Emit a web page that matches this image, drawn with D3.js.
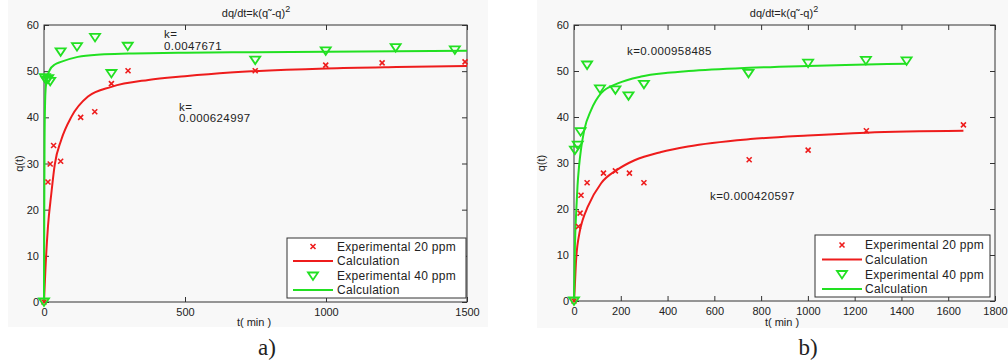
<!DOCTYPE html>
<html><head><meta charset="utf-8">
<script src="https://cdn.jsdelivr.net/npm/d3@7"></script>
<style>
body{margin:0;background:#fff}
svg{display:block}
text{font-family:"Liberation Sans",Arial,sans-serif;fill:#222}
</style>
</head><body>
<svg id="c" width="1008" height="364"></svg>
<script>
// ---------- Data: panel a) ----------
const aExp20T = [0, 14, 22, 34, 59, 130, 180, 239, 298, 749, 999, 1199, 1493];
const aExp20Q = [0, 26.0, 29.9, 33.9, 30.5, 40.0, 41.2, 47.3, 50.1, 50.1, 51.3, 51.8, 52.0];
const aExp40T = [0, 3, 8, 15, 22, 59, 117, 181, 239, 297, 749, 999, 1247, 1457];
const aExp40Q = [0, 48.6, 48.0, 48.4, 47.8, 54.2, 55.3, 57.3, 49.5, 55.4, 52.4, 54.4, 55.1, 54.6];
const aCalc20T = [0, 5, 14, 26, 38, 61, 97, 156, 239, 370, 500, 660, 1000, 1250, 1500];
const aCalc20Q = [0, 7.0, 16.3, 23.5, 29.7, 35.1, 40.1, 44.5, 46.6, 48.1, 48.9, 49.7, 50.6, 50.9, 51.1];
const aCalc40T = [0, 1, 2, 4, 6, 10, 20, 40, 60, 120, 200, 300, 500, 750, 1000, 1250, 1500];
const aCalc40Q = [0, 20, 35, 43.5, 46.3, 48.3, 50.2, 51.5, 52.0, 53.1, 53.6, 53.8, 54.0, 54.1, 54.2, 54.3, 54.4];
const aXTicks = [0, 500, 1000, 1500];

// ---------- Data: panel b) ----------
const bExp20T = [0, 19, 26, 30, 56, 126, 177, 237, 299, 749, 1001, 1250, 1665];
const bExp20Q = [0, 16.2, 19.1, 23.0, 25.7, 27.8, 28.3, 27.8, 25.7, 30.7, 32.8, 37.0, 38.3];
const bExp40T = [0, 4, 16, 28, 56, 111, 177, 233, 299, 746, 1001, 1248, 1422];
const bExp40Q = [0, 32.8, 33.9, 36.8, 51.3, 46.1, 45.9, 44.6, 47.1, 49.5, 51.7, 52.3, 52.2];
const bCalc20T = [0, 2, 9, 23, 37, 59, 116, 187, 259, 373, 487, 754, 1000, 1250, 1665];
const bCalc20Q = [0, 1.7, 8.9, 14.7, 17.6, 20.5, 25.6, 28.6, 30.6, 32.4, 33.6, 35.2, 36.0, 36.6, 37.0];
const bCalc40T = [0, 4, 10, 15, 22, 30, 44, 73, 116, 187, 287, 400, 490, 750, 1000, 1250, 1422];
const bCalc40Q = [0, 12, 20, 25, 29.5, 33, 37.2, 41.5, 45.2, 47.3, 48.8, 49.6, 50.0, 50.7, 51.1, 51.4, 51.6];
const bXTicks = [0, 200, 400, 600, 800, 1000, 1200, 1400, 1600, 1800];

const yTicks = [0, 10, 20, 30, 40, 50, 60];
const legendLabels = ["Experimental 20 ppm", "Calculation", "Experimental 40 ppm", "Calculation"];
const titleText = "dq/dt=k(q˜-q)";

const RED = "#ee1c1c", GREEN = "#22e022";
const svg = d3.select("#c");

function zip(t, q){ return t.map((v,i)=>({t:v,q:q[i]})); }

function panel(cfg){
  const g = svg.append("g");
  g.append("rect").attr("x",cfg.bg[0]).attr("y",0).attr("width",cfg.bg[1]-cfg.bg[0]).attr("height",cfg.bg[2]).attr("fill","#f8f8f8");
  const x = d3.scaleLinear().domain(cfg.xDomain).range([cfg.x0, cfg.x1]);
  const y = d3.scaleLinear().domain([0,60]).range([cfg.y1, cfg.y0]);

  const axStyle = sel => { sel.select(".domain").remove(); sel.selectAll("line").attr("stroke","#333"); sel.selectAll("text").attr("font-size","11px").attr("fill","#222").style("font-family","'Liberation Sans',Arial,sans-serif"); };
  g.append("g").attr("transform",`translate(0,${cfg.y1})`).call(d3.axisBottom(x).tickValues(cfg.xTicks).tickSize(-5).tickPadding(6).tickFormat(d3.format("d"))).call(axStyle);
  g.append("g").attr("transform",`translate(0,${cfg.y0})`).call(d3.axisTop(x).tickValues(cfg.xTicks).tickSize(-5).tickFormat("")).call(axStyle);
  g.append("g").attr("transform",`translate(${cfg.x0},0)`).call(d3.axisLeft(y).tickValues(yTicks).tickSize(-5).tickPadding(5)).call(axStyle);
  g.append("g").attr("transform",`translate(${cfg.x1},0)`).call(d3.axisRight(y).tickValues(yTicks).tickSize(-5).tickFormat("")).call(axStyle);
  g.append("rect").attr("x",cfg.x0).attr("y",cfg.y0).attr("width",cfg.x1-cfg.x0).attr("height",cfg.y1-cfg.y0).attr("fill","none").attr("stroke","#333").attr("stroke-width",1);

  const line = d3.line().x(d=>x(d.t)).y(d=>y(d.q)).curve(d3.curveMonotoneX);
  g.append("path").datum(zip(cfg.c20t,cfg.c20q)).attr("d",line).attr("fill","none").attr("stroke",RED).attr("stroke-width",2);
  g.append("path").datum(zip(cfg.c40t,cfg.c40q)).attr("d",line).attr("fill","none").attr("stroke",GREEN).attr("stroke-width",2);

  const xMark = "M-2.5,-2.5L2.5,2.5M-2.5,2.5L2.5,-2.5";
  const triMark = "M-5,-3.5L5,-3.5L0,4Z";
  g.selectAll(".e20").data(zip(cfg.e20t,cfg.e20q)).enter().append("path").attr("d",xMark)
    .attr("transform",d=>`translate(${x(d.t)},${y(d.q)})`).attr("stroke",RED).attr("stroke-width",1.6).attr("fill","none");
  g.selectAll(".e40").data(zip(cfg.e40t,cfg.e40q)).enter().append("path").attr("d",triMark)
    .attr("transform",d=>`translate(${x(d.t)},${y(d.q)})`).attr("stroke",GREEN).attr("stroke-width",1.8).attr("fill","none");

  // title
  const t = g.append("text").attr("x",cfg.titleX).attr("y",17).attr("text-anchor","middle").attr("font-size","11px");
  t.append("tspan").text(titleText);
  t.append("tspan").attr("dy",-5).attr("font-size","9px").text("2");

  // axis labels
  g.append("text").attr("transform",`translate(${cfg.qLabelX},${(cfg.y0+cfg.y1)/2}) rotate(-90)`).attr("text-anchor","middle").attr("font-size","11px").text("q(t)");
  g.append("text").attr("x",cfg.tLabelX).attr("y",326).attr("text-anchor","middle").attr("font-size","11px").text("t( min )");
  g.append("text").attr("x",cfg.subX).attr("y",355).attr("text-anchor","middle").attr("font-size","23px").style("font-family","'Liberation Serif','Times New Roman',serif").attr("fill","#000").text(cfg.sub);

  // k annotations
  cfg.kText.forEach(k=>{
    g.append("text").attr("x",k.x).attr("y",k.y).attr("font-size","11.5px").attr("letter-spacing","0.4px").text(k.s);
  });

  // legend
  const L = cfg.legend;
  g.append("rect").attr("x",L.x).attr("y",L.y).attr("width",L.w).attr("height",L.h).attr("fill","#fff").attr("stroke","#333");
  legendLabels.forEach((lab,i)=>{
    const cy = L.rows[i];
    if(i===1||i===3){
      g.append("line").attr("x1",L.l0).attr("x2",L.l1).attr("y1",cy).attr("y2",cy).attr("stroke",i===1?RED:GREEN).attr("stroke-width",2);
    } else if(i===0){
      g.append("path").attr("d",xMark).attr("transform",`translate(${(L.l0+L.l1)/2},${cy})`).attr("stroke",RED).attr("stroke-width",1.6);
    } else {
      g.append("path").attr("d",triMark).attr("transform",`translate(${(L.l0+L.l1)/2},${cy})`).attr("stroke",GREEN).attr("stroke-width",1.8).attr("fill","none");
    }
    g.append("text").attr("x",L.tx).attr("y",cy+4).attr("font-size","12px").attr("letter-spacing","0.3px").text(lab);
  });
}

panel({
  bg:[8,488,327], x0:44, x1:467, y0:25, y1:302, xDomain:[0,1500], xTicks:aXTicks,
  e20t:aExp20T, e20q:aExp20Q, e40t:aExp40T, e40q:aExp40Q,
  c20t:aCalc20T, c20q:aCalc20Q, c40t:aCalc40T, c40q:aCalc40Q,
  titleX:256, qLabelX:23, tLabelX:254, subX:267, sub:"a)",
  kText:[{x:164,y:38,s:"k="},{x:164,y:50,s:"0.0047671"},{x:179,y:111,s:"k="},{x:179,y:122,s:"0.000624997"}],
  legend:{x:287,y:238,w:179,h:60,rows:[246.5,261,276,290],l0:293,l1:333,tx:337}
});
panel({
  bg:[537,1008,328], x0:574, x1:995, y0:25, y1:301, xDomain:[0,1800], xTicks:bXTicks,
  e20t:bExp20T, e20q:bExp20Q, e40t:bExp40T, e40q:bExp40Q,
  c20t:bCalc20T, c20q:bCalc20Q, c40t:bCalc40T, c40q:bCalc40Q,
  titleX:784, qLabelX:545, tLabelX:782, subX:808, sub:"b)",
  kText:[{x:627,y:55,s:"k=0.000958485"},{x:710,y:200,s:"k=0.000420597"}],
  legend:{x:815,y:235,w:175,h:62,rows:[245,259.5,274.5,289],l0:822,l1:862,tx:865}
});
</script>
</body></html>
